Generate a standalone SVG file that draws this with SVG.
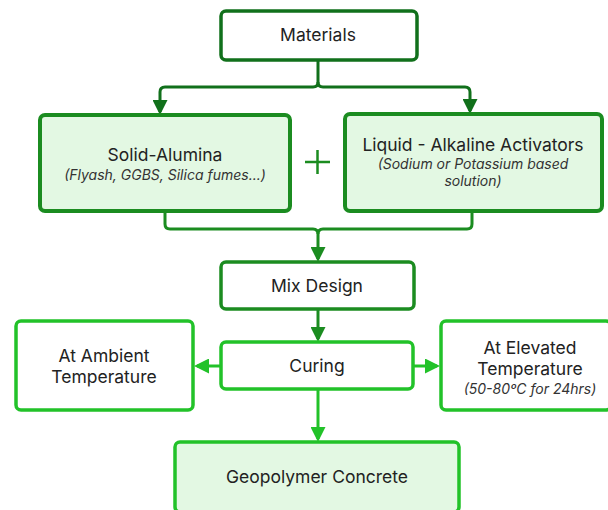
<svg xmlns="http://www.w3.org/2000/svg" width="608" height="510" viewBox="0 0 608 510">
<defs>
<style>
text{font-family:Inter,"Liberation Sans",sans-serif;fill:#222;text-anchor:middle}
.t{font-size:17.5px}
.s{font-size:14px;font-style:italic;fill:#333}
.dk{stroke:#11701b;fill:#fff;stroke-width:3.5}
.md{stroke:#1b8c20;fill:#e3f8e3;stroke-width:4}
.mdw{stroke:#1b8c20;fill:#fff;stroke-width:3.5}
.br{stroke:#22c229;fill:#fff;stroke-width:3.5}
.brf{stroke:#22c229;fill:#e3f8e3;stroke-width:3.5}
.c1{stroke:#11701b;fill:none;stroke-width:3}
.c2{stroke:#1b8c20;fill:none;stroke-width:3}
.c3{stroke:#22c229;fill:none;stroke-width:3}
</style>
<marker id="a1" markerWidth="5" markerHeight="5" refX="4" refY="2.5" orient="auto" markerUnits="strokeWidth"><path d="M0,0L5,2.5L0,5z" fill="#11701b"/></marker>
<marker id="a2" markerWidth="5" markerHeight="5" refX="4" refY="2.5" orient="auto" markerUnits="strokeWidth"><path d="M0,0L5,2.5L0,5z" fill="#1b8c20"/></marker>
<marker id="a3" markerWidth="5" markerHeight="5" refX="4" refY="2.5" orient="auto" markerUnits="strokeWidth"><path d="M0,0L5,2.5L0,5z" fill="#22c229"/></marker>
</defs>
<g id="connectors">
<path class="c1" d="M318,60V82Q318,87 313,87H165Q160,87 160,92V112" marker-end="url(#a1)"/>
<path class="c1" d="M318,82Q318,87 323,87H465Q470,87 470,92V111" marker-end="url(#a1)"/>
<path class="c2" d="M165,212V224Q165,229 170,229H313Q318,229 318,234V259" marker-end="url(#a2)"/>
<path class="c2" d="M472,212V224Q472,229 467,229H323Q318,229 318,234"/>
<path class="c2" d="M318,310V339" marker-end="url(#a2)"/>
<path class="c3" d="M220,366H197" marker-end="url(#a3)"/>
<path class="c3" d="M413,366H437" marker-end="url(#a3)"/>
<path class="c3" d="M318,390V439" marker-end="url(#a3)"/>
</g>
<g id="materials">
<rect class="dk" x="221" y="11" width="196" height="49" rx="5"/>
<text class="t" x="318" y="41">Materials</text>
</g>
<g id="solid-alumina">
<rect class="md" x="40" y="115" width="250" height="96" rx="5"/>
<text class="t" x="165" y="161">Solid-Alumina</text>
<text class="s" x="165" y="180">(Flyash, GGBS, Silica fumes...)</text>
</g>
<g id="plus">
<path d="M305,162H330M317.5,150V174" stroke="#1b8c20" stroke-width="2.5" fill="none"/>
</g>
<g id="liquid-activators">
<rect class="md" x="345" y="114" width="257" height="97" rx="5"/>
<text class="t" x="473" y="151">Liquid - Alkaline Activators</text>
<text class="s" x="473" y="169">(Sodium or Potassium based</text>
<text class="s" x="473" y="186">solution)</text>
</g>
<g id="mix-design">
<rect class="mdw" x="221" y="262" width="193" height="47" rx="5"/>
<text class="t" x="317" y="292">Mix Design</text>
</g>
<g id="curing">
<rect class="br" x="221" y="342" width="192" height="47" rx="5"/>
<text class="t" x="317" y="372">Curing</text>
</g>
<g id="ambient">
<rect class="br" x="16" y="321" width="177" height="89" rx="5"/>
<text class="t" x="104" y="362">At Ambient</text>
<text class="t" x="104" y="383">Temperature</text>
</g>
<g id="elevated">
<rect class="br" x="441" y="321" width="170" height="89" rx="5"/>
<text class="t" x="530" y="354">At Elevated</text>
<text class="t" x="530" y="375">Temperature</text>
<text class="s" x="530" y="394">(50-80ºC for 24hrs)</text>
</g>
<g id="geopolymer">
<rect class="brf" x="175" y="442" width="284" height="70" rx="5"/>
<text class="t" x="317" y="483">Geopolymer Concrete</text>
</g>
</svg>
